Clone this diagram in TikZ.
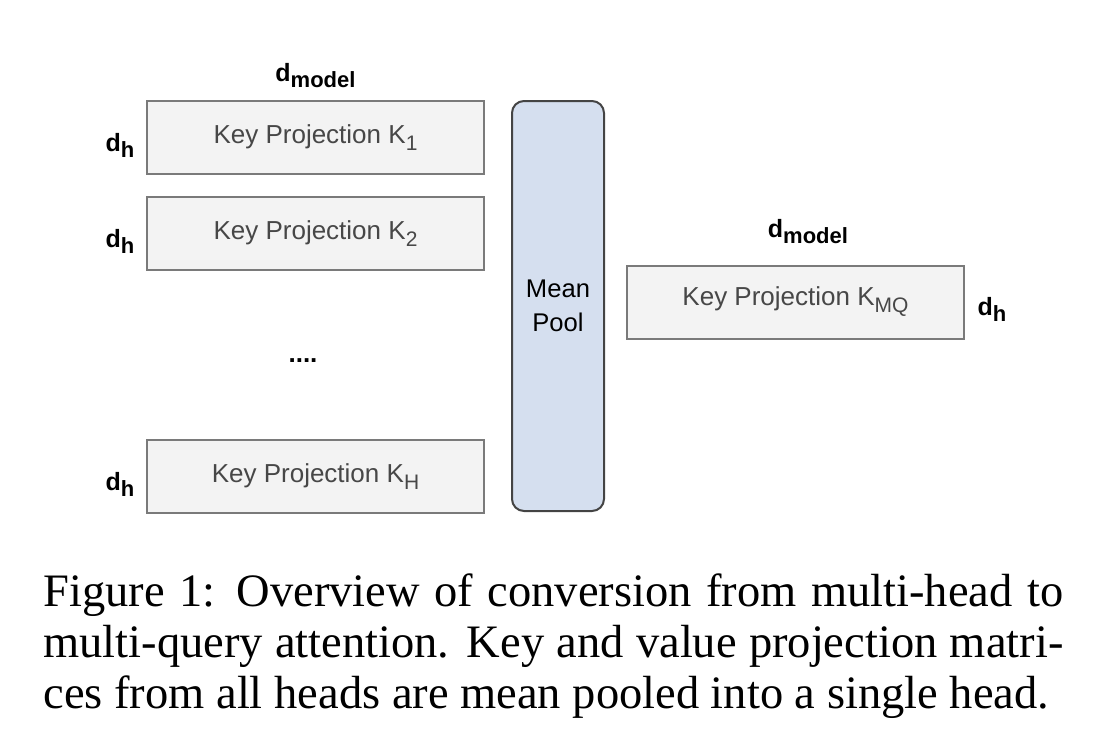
\documentclass[tikz,border=0pt]{standalone}
\usepackage{fontspec}
\setmainfont{Liberation Serif}
\newfontfamily\arialfont{Liberation Sans}
\usetikzlibrary{positioning}

\definecolor{boxfill}{HTML}{F3F3F3}
\definecolor{boxline}{HTML}{7A7A7A}
\definecolor{keytext}{HTML}{474747}
\definecolor{poolfill}{HTML}{D5DFEF}
\definecolor{poolline}{HTML}{444444}

\newcommand{\dimlabel}[1]{{\fontsize{12.5}{14}\selectfont d}\raisebox{-3pt}{\fontsize{11}{12}\selectfont #1}}
\newcommand{\keysub}[1]{\raisebox{-3.5pt}{\fontsize{10.5}{12}\selectfont #1}}

\begin{document}
\begin{tikzpicture}[x=0.5pt, y=-0.5pt, node distance={48pt},
    proj/.style = {draw=boxline, fill=boxfill, line width=1pt, minimum width=168.5pt, minimum height=36.5pt, inner sep=0pt, text=keytext, font=\arialfont\fontsize{13}{15}\selectfont},
    pool/.style = {draw=poolline, fill=poolfill, line width=1pt, rounded corners=6pt, minimum width=46pt, minimum height=205pt, inner sep=0pt, align=center, font=\arialfont\fontsize{12.8}{17}\selectfont},
    dim/.style = {inner sep=0pt, font=\arialfont\bfseries}]
    \useasboundingbox (0,0) rectangle (1120,750);
    \node[proj] (k1) at (315.5,137.5) {Key Projection K\keysub{1}};
    \node[proj] (k2) [below of = k1] {Key Projection K\keysub{2}};
    \node[proj] (kh) at (315.5,476.5) {Key Projection K\keysub{H}};
    \node[pool] (pool) at (558,306) {Mean\\Pool};
    \node[proj] (kmq) at (795.5,302) {Key Projection K\keysub{MQ}};
    \node[dim, font=\arialfont\bfseries\fontsize{13}{15}\selectfont] (dots) at (303,361) {....};
    \node[dim] (dmodel1) [above of = k1, node distance=30.75pt] {\dimlabel{model}};
    \node[dim] (dmodel2) [above of = kmq, node distance=35pt, xshift=6.25pt] {\dimlabel{model}};
    \node[dim] (dh1) [left of = k1, node distance=97.75pt, yshift=-3.75pt] {\dimlabel{h}};
    \node[dim] (dh2) [left of = k2, node distance=97.75pt, yshift=-3.75pt] {\dimlabel{h}};
    \node[dim] (dhh) [left of = kh, node distance=97.75pt, yshift=-3.75pt] {\dimlabel{h}};
    \node[dim] (dhmq) [right of = kmq, node distance=98.25pt, yshift=-3.5pt] {\dimlabel{h}};
    % caption
    \node[anchor=base west, inner sep=0pt, text width=510pt, align=justify, font=\fontsize{23.25}{25.5}\selectfont] (caption) at (43,606)
        {Figure 1: Overview of conversion from multi-head to\linebreak multi-query attention. Key and value projection matri-\linebreak ces from all heads are mean pooled into a single head.};
\end{tikzpicture}
\end{document}
